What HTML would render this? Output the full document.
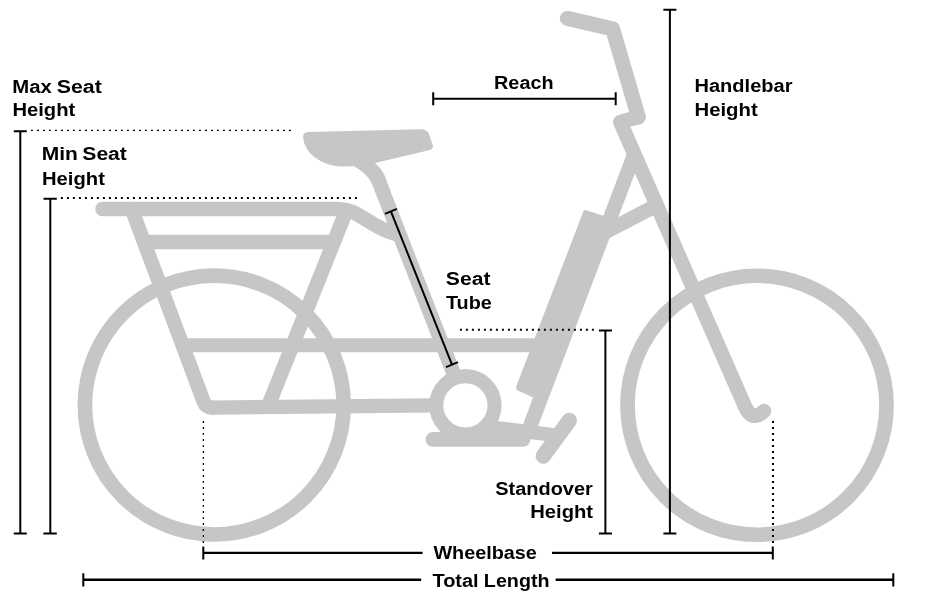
<!DOCTYPE html>
<html lang="en">
<head>
<meta charset="utf-8">
<title>Bike Geometry</title>
<style>
html,body{margin:0;padding:0;background:#fff;}
body{width:940px;height:600px;overflow:hidden;position:relative;}
svg{position:absolute;left:0;top:0;display:block;}
.bike{fill:none;stroke:#c6c6c6;stroke-width:14.5;stroke-linecap:round;stroke-linejoin:round;}
.fillb{fill:#c6c6c6;stroke:none;}
.dim{fill:none;stroke:#000;stroke-width:2;}
.dot{fill:none;stroke:#000;stroke-width:2;stroke-dasharray:2 4;}
.dotv{fill:none;stroke:#000;stroke-width:1.3;stroke-dasharray:2 4;}
.lbl{opacity:0.999;}
.lbl text{opacity:0.999;}
text{font-family:"Liberation Sans",Arial,sans-serif;font-weight:bold;font-size:19.2px;fill:#000;}
</style>
</head>
<body>
<svg width="940" height="600" viewBox="0 0 940 600">
<!-- BIKE -->
<g class="bike">
  <!-- wheels -->
  <circle cx="214.3" cy="405.1" r="129.4" stroke-width="14.7"/>
  <circle cx="757" cy="405.25" r="129.5" stroke-width="14.7"/>
  <!-- rack -->
  <path d="M102.5 209 H336 Q348.5 209 358 214.8 L375 225 Q385 231 396 234"/>
  <path d="M145 242 H333"/>
  <path d="M131.7 209 L203.6 401.6 Q206 407.8 212.5 407.6" stroke-width="14.4"/>
  <path d="M345 214 L268.6 405" stroke-linecap="butt"/>
  <path d="M183 345.2 H535" stroke-width="14"/>
  <!-- chainstay -->
  <path d="M212 407.6 L436 405.3" stroke-width="14.3"/>
  <!-- seat tube -->
  <path d="M381 187 L454 374.5" stroke-linecap="butt"/>
  <!-- bb ring -->
  <circle cx="465.4" cy="405.3" r="29.15" stroke-width="14.1"/>
  <!-- chain guard -->
  <path d="M432.9 439.4 H523" stroke-width="14.8"/>
  <!-- crank -->
  <path d="M489 427.1 L553 434.9" stroke-linecap="butt" stroke-width="14"/>
  <!-- pedal -->
  <path d="M569.3 420.5 L543.3 456" stroke-width="15.5"/>
  <!-- fork -->
  <path d="M638.3 117 L620.3 122 L744.8 406 Q749.5 416.5 756 415.7 Q760.5 415 764 411"/>
  <!-- stem + bar -->
  <path d="M567.3 18.4 L612.6 28.9 L638.4 117" stroke-width="15"/>
  <!-- down tube upper -->
  <path d="M633.7 156 L604.5 233" stroke-linecap="butt"/>
  <!-- brace -->
  <path d="M603 233.4 L652 207.8" stroke-linecap="butt"/>
</g>
<g class="fillb">
  <!-- seat -->
  <path d="M303 137 Q303 132 309 131.9 L420 129.3 Q427 129 429 134 L432.7 145 Q434 149 429 150.3 L375 163 Q381 168 384 174 Q386 178.5 387.7 184 L390.4 191 L376 193 L373.2 187 Q370 178.5 364.5 173.8 Q360 169.5 354 166.2 L341 166.5 Q326.5 166.2 314.5 157.3 Q304.3 149.5 303 137 Z"/>
  <!-- battery -->
  <path d="M583.5 211 Q584 209.5 586 210.3 L604 216 L618 218.5 L609 239.5 L537.7 427 L522.5 426 L533 397.4 L518.3 390.8 Q515.2 389.3 516.2 386.5 Z"/>
</g>

<!-- DIMENSIONS -->
<g class="dim">
  <!-- max seat -->
  <path d="M20.3 131.3 V533.4 M13.8 131.3 H26.8 M13.8 533.4 H26.8"/>
  <!-- min seat -->
  <path d="M50.3 198.8 V533.4 M43.5 198.8 H56.8 M43.4 533.5 H56.8"/>
  <!-- reach -->
  <path d="M433.2 98.8 H615.7 M433.2 92.3 V105.3 M615.7 92.3 V105.3"/>
  <!-- handlebar height -->
  <path d="M669.9 9.7 V533.4 M663.4 9.7 H676.4 M663.4 533.4 H676.4"/>
  <!-- standover -->
  <path d="M605.4 330.6 V533.4 M598.9 330.6 H611.9 M598.9 533.4 H611.9"/>
  <!-- seat tube -->
  <path d="M390.9 211.3 L452 364.7 M384.9 213.8 L396.9 208.8 M446 367.2 L458 362.2"/>
  <!-- wheelbase -->
  <path d="M203.3 552.9 H422.6 M552 552.9 H773" stroke-width="2.2"/><path d="M203.3 546.5 V559.5 M772.8 546.5 V559.5"/>
  <!-- total length -->
  <path d="M83.3 579.8 H421.2 M555.6 579.8 H893.3" stroke-width="2.4"/><path d="M83.3 573.3 V586.5 M893.3 573.3 V586.5"/>
</g>
<g class="dot">
  <path d="M60.9 197.9 H358"/>
  <path d="M459.9 329.8 H595"/>
</g>
<g class="dotv">
  <path d="M30.9 130.4 H292"/>
  <path d="M203.4 421 V543"/>
</g>
<g class="dot">
  <path d="M773 421 V543"/>
</g>

<!-- LABELS -->
<g class="lbl">
<text><tspan x="12.32" y="93.0" textLength="39.51" lengthAdjust="spacingAndGlyphs">Max</tspan> <tspan x="56.73" y="93.0" textLength="45.02" lengthAdjust="spacingAndGlyphs">Seat</tspan></text>
<text><tspan x="12.43" y="116.3" textLength="62.89" lengthAdjust="spacingAndGlyphs">Height</tspan></text>
<text><tspan x="41.68" y="160.4" textLength="36.18" lengthAdjust="spacingAndGlyphs">Min</tspan> <tspan x="82.34" y="160.4" textLength="44.51" lengthAdjust="spacingAndGlyphs">Seat</tspan></text>
<text><tspan x="42.03" y="184.6" textLength="62.89" lengthAdjust="spacingAndGlyphs">Height</tspan></text>
<text><tspan x="494.06" y="89.3" textLength="59.48" lengthAdjust="spacingAndGlyphs">Reach</tspan></text>
<text><tspan x="694.54" y="92.1" textLength="97.91" lengthAdjust="spacingAndGlyphs">Handlebar</tspan></text>
<text><tspan x="694.52" y="116.1" textLength="63.19" lengthAdjust="spacingAndGlyphs">Height</tspan></text>
<text><tspan x="445.84" y="285.0" textLength="44.62" lengthAdjust="spacingAndGlyphs">Seat</tspan></text>
<text><tspan x="445.99" y="309.0" textLength="45.85" lengthAdjust="spacingAndGlyphs">Tube</tspan></text>
<text><tspan x="495.28" y="494.5" textLength="97.58" lengthAdjust="spacingAndGlyphs">Standover</tspan></text>
<text><tspan x="530.23" y="518.4" textLength="62.89" lengthAdjust="spacingAndGlyphs">Height</tspan></text>
<text><tspan x="433.4" y="559.4" textLength="103.47" lengthAdjust="spacingAndGlyphs">Wheelbase</tspan></text>
<text><tspan x="432.49" y="586.6" textLength="46.18" lengthAdjust="spacingAndGlyphs">Total</tspan> <tspan x="483.86" y="586.6" textLength="65.72" lengthAdjust="spacingAndGlyphs">Length</tspan></text>
</g>
</svg>
</body>
</html>
